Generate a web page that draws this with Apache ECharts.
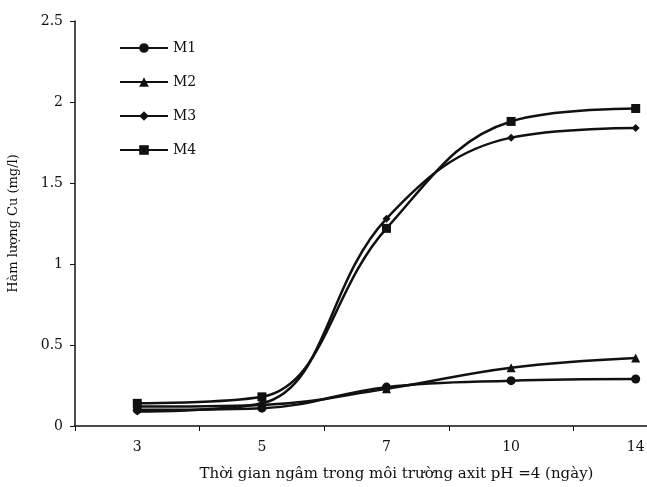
<!DOCTYPE html>
<html>
<head>
<meta charset="utf-8">
<script src="https://cdn.jsdelivr.net/npm/echarts@6/dist/echarts.min.js"></script>
<style>
html,body{margin:0;padding:0;background:#fff;}
#main{width:647px;height:487px;}
</style>
</head>
<body>
<div id="main"></div>
<script>
// du lieu doc tu hinh
var days = ['3', '5', '7', '10', '14'];
var m1 = [0.10, 0.11, 0.24, 0.28, 0.29];
var m2 = [0.12, 0.13, 0.23, 0.36, 0.42];
var m3 = [0.09, 0.14, 1.28, 1.78, 1.84];
var m4 = [0.14, 0.18, 1.22, 1.88, 1.96];
var seriesNames = ['M1', 'M2', 'M3', 'M4'];
var symbols = ['circle', 'triangle', 'diamond', 'rect'];
var sizes = [9, 9, 8, 9];

var chart = echarts.init(document.getElementById('main'));
var font = 'DejaVu Serif';

function makeSeries(i, data) {
    return {
        name: seriesNames[i],
        type: 'line',
        data: data,
        smooth: 0.4,
        symbol: symbols[i],
        symbolSize: sizes[i],
        showAllSymbol: true,
        lineStyle: {color: '#111', width: 2.5},
        itemStyle: {color: '#111'}
    };
}

var option = {
    backgroundColor: '#fff',
    animation: false,
    // truc x bi cat o mep phai trong hinh goc
    grid: {left: 75, top: 21, bottom: 61, width: 623, outerBoundsMode: 'none', containLabel: false},
    legend: {
        orient: 'vertical',
        left: 114,
        top: 36,
        itemWidth: 48,
        itemHeight: 12,
        itemGap: 20,
        itemStyle: {borderWidth: 0},
        textStyle: {fontFamily: font, fontSize: 14, color: '#111'},
        data: seriesNames
    },
    xAxis: {
        type: 'category',
        data: days,
        boundaryGap: true,
        name: 'Thời gian ngâm trong môi trường axit pH =4 (ngày)',
        nameLocation: 'middle',
        nameGap: 41,
        nameTextStyle: {fontFamily: font, fontSize: 15, color: '#111', padding: [0, 0, 0, 20]},
        axisLine: {lineStyle: {color: '#111', width: 1.5}},
        axisTick: {show: true, length: 5, lineStyle: {color: '#111'}},
        axisLabel: {fontFamily: font, fontSize: 14, color: '#111', margin: 14},
        splitLine: {show: false}
    },
    yAxis: {
        type: 'value',
        min: 0,
        max: 2.5,
        interval: 0.5,
        name: 'Hàm lượng Cu (mg/l)',
        nameLocation: 'middle',
        nameGap: 55,
        nameRotate: 90,
        nameTextStyle: {fontFamily: font, fontSize: 13, color: '#111'},
        axisLine: {show: true, lineStyle: {color: '#111', width: 1.5}},
        axisTick: {show: true, length: 5, lineStyle: {color: '#111'}},
        axisLabel: {fontFamily: font, fontSize: 14, color: '#111', margin: 12},
        splitLine: {show: false}
    },
    series: [
        makeSeries(0, m1),
        makeSeries(1, m2),
        makeSeries(2, m3),
        makeSeries(3, m4)
    ]
};
chart.setOption(option);
</script>
</body>
</html>
